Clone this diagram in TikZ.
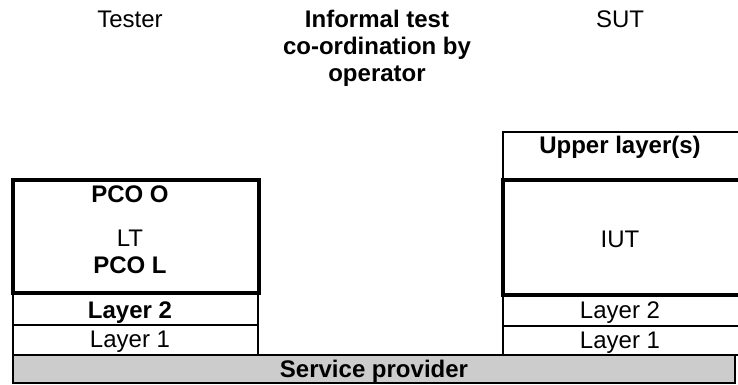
\documentclass[tikz,border=0pt]{standalone}
\usepackage{fontspec}
\setmainfont{Liberation Sans}
\begin{document}
\begin{tikzpicture}[x=0.5pt,y=-0.5pt,
  thinbox/.style={black, line width=0.7pt},
  thickbox/.style={black, line width=1.8pt},
  lbl/.style={anchor=base, inner sep=0pt, font=\fontsize{12}{14}\selectfont},
  blbl/.style={lbl, font=\fontsize{12}{14}\selectfont\bfseries}]
\useasboundingbox (0,0) rectangle (738,385);
\node[lbl] (tester) at (130,28) {Tester};
\node[blbl] (coord1) at (377,28) {Informal test};
\node[blbl] (coord2) at (377,55) {co-ordination by};
\node[blbl] (coord3) at (377,82) {operator};
\node[lbl] (sut) at (620,28) {SUT};
\draw[thinbox] (503,132) rectangle (770,180);
\draw[thinbox] (503,295) rectangle (770,326);
\draw[thinbox] (503,326) rectangle (770,355);
\draw[thinbox] (13,293) rectangle (258,325);
\draw[thinbox] (13,325) rectangle (258,355);
\draw[thinbox, fill={rgb,255:red,204;green,204;blue,204}] (13,355) rectangle (735,383);
\draw[thickbox] (13,180) rectangle (259,293);
\draw[thickbox] (503,180) rectangle (770,295);
\node[blbl] (upper) at (620,154) {Upper layer(s)};
\node[lbl] (iut) at (620,247) {IUT};
\node[lbl] (sutl2) at (620,318) {Layer 2};
\node[lbl] (sutl1) at (620,348) {Layer 1};
\node[blbl] (pcoo) at (130,202) {PCO O};
\node[lbl] (lt) at (130,246) {LT};
\node[blbl] (pcol) at (130,273) {PCO L};
\node[blbl] (testl2) at (130,318) {Layer 2};
\node[lbl] (testl1) at (130,347) {Layer 1};
\node[blbl] (sp) at (374,377) {Service provider};
\end{tikzpicture}
\end{document}
